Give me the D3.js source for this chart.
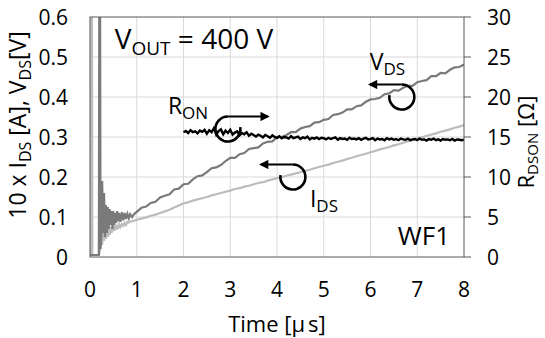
<!DOCTYPE html>
<html lang="en">
<head>
<meta charset="utf-8">
<title>WF1 switching waveform</title>
<style>
  body { margin: 0; background: #fff; }
  svg text { font-family: "Open Sans", sans-serif; fill: #000; }
  .grid line { stroke: #d9d9d9; stroke-width: 1; }
  .tick-label { font-size: 21px; }
  .title { font-size: 22px; }
  .note { font-size: 25px; }
</style>
</head>
<body>
<div id="chart"></div>
<script src="https://cdn.jsdelivr.net/npm/d3@7"></script>
<script>
var width = 545, height = 338;

// early transient (0 - 1 us), explicit sample times
var tEarly = [0, 0.02, 0.03, 0.04, 0.05, 0.19, 0.2, 0.215, 0.225, 0.24, 0.26, 0.28, 0.3, 0.32, 0.34,
  0.36, 0.38, 0.4, 0.42, 0.44, 0.46, 0.48, 0.5, 0.52, 0.54, 0.56, 0.58, 0.6, 0.62, 0.65, 0.68,
  0.71, 0.74, 0.77, 0.8, 0.83, 0.86, 0.9, 0.95];
var vdsEarly = [0.005, 0.005, 0.005, 0.005, 0.005, 0.005, 0.7, 0.7, 0.02, 0.05, 0.19, 0.06, 0.16, 0.05, 0.13,
  0.06, 0.125, 0.07, 0.12, 0.08, 0.115, 0.07, 0.115, 0.08, 0.11, 0.085, 0.115, 0.09, 0.11, 0.088, 0.112,
  0.092, 0.11, 0.095, 0.108, 0.097, 0.107, 0.1, 0.108];
var idsEarly = [0.005, 0.005, 0.7, 0.7, 0.005, 0.005, 0.01, 0.02, 0.03, 0.07, 0.03, 0.08, 0.04, 0.075, 0.045,
  0.075, 0.05, 0.075, 0.055, 0.075, 0.06, 0.072, 0.078, 0.065, 0.08, 0.068, 0.08, 0.07, 0.082, 0.075, 0.082,
  0.078, 0.085, 0.08, 0.088, 0.086, 0.088, 0.09, 0.091];

// main record, 1.0 - 8.0 us every 0.1 us
var mainStart = 1.0, mainStep = 0.1;
var vdsMain = [0.113, 0.123, 0.126, 0.135, 0.138, 0.149, 0.153, 0.157, 0.169, 0.171,
  0.182, 0.183, 0.194, 0.202, 0.204, 0.212, 0.222, 0.224, 0.230, 0.240,
  0.248, 0.248, 0.257, 0.260, 0.270, 0.272, 0.274, 0.284, 0.288, 0.289,
  0.299, 0.300, 0.305, 0.312, 0.312, 0.321, 0.325, 0.327, 0.336, 0.337,
  0.343, 0.345, 0.355, 0.357, 0.361, 0.369, 0.369, 0.377, 0.379, 0.388,
  0.394, 0.395, 0.398, 0.407, 0.409, 0.417, 0.416, 0.423, 0.428, 0.428,
  0.437, 0.440, 0.442, 0.452, 0.452, 0.460, 0.459, 0.468, 0.474, 0.475, 0.481];
var idsMain = [0.093, 0.096, 0.099, 0.103, 0.106, 0.110, 0.114, 0.118, 0.124, 0.129,
  0.134, 0.137, 0.141, 0.144, 0.147, 0.150, 0.154, 0.157, 0.160, 0.163,
  0.166, 0.170, 0.172, 0.176, 0.178, 0.182, 0.185, 0.187, 0.191, 0.194,
  0.197, 0.200, 0.203, 0.206, 0.209, 0.212, 0.215, 0.218, 0.222, 0.225,
  0.228, 0.231, 0.235, 0.238, 0.241, 0.245, 0.248, 0.252, 0.255, 0.258,
  0.262, 0.265, 0.269, 0.272, 0.275, 0.279, 0.282, 0.286, 0.289, 0.292,
  0.296, 0.299, 0.303, 0.306, 0.309, 0.313, 0.316, 0.319, 0.323, 0.326, 0.330];

// on-resistance, 2.0 - 8.0 us every 0.05 us [ohm]
var ronStart = 2.0, ronStep = 0.05;
var ron = [15.6, 15.75, 15.5, 15.85, 15.6, 15.7, 15.45, 15.8, 15.65, 15.9,
  15.4, 15.85, 15.6, 16.1, 15.3, 15.75, 15.95, 15.35, 15.8, 15.5,
  15.9, 15.3, 15.55, 15.7, 15.2, 15.5, 15.35, 15.6, 15.15, 15.4,
  15.25, 15.05, 15.3, 15.15, 14.95, 15.25, 15.1, 14.9, 15.2, 15.0,
  14.9, 15.1, 14.85, 15.0, 14.95, 14.8, 15.1, 14.85, 14.95, 15.05,
  14.75, 14.95, 14.85, 15.05, 14.7, 14.9, 14.8, 14.95, 14.75, 14.9,
  14.85, 14.7, 14.9, 14.75, 14.85, 14.95, 14.65, 14.85, 14.75, 14.8,
  14.65, 14.9, 14.75, 14.8, 14.7, 14.85, 14.65, 14.8, 14.9, 14.7,
  14.75, 14.85, 14.6, 14.8, 14.7, 14.75, 14.6, 14.85, 14.7, 14.8,
  14.65, 14.75, 14.6, 14.8, 14.7, 14.65, 14.8, 14.6, 14.7, 14.75,
  14.6, 14.8, 14.65, 14.7, 14.55, 14.75, 14.65, 14.8, 14.6, 14.7,
  14.55, 14.75, 14.65, 14.7, 14.6, 14.75, 14.55, 14.7, 14.65, 14.6, 14.65];

var xTicks = [0, 1, 2, 3, 4, 5, 6, 7, 8];
var yLeftTicks = [0, 0.1, 0.2, 0.3, 0.4, 0.5, 0.6];
var yRightTicks = [0, 5, 10, 15, 20, 25, 30];

// curve markers: where the circle sits and which axis it points to
var notes = [
  { name: "R", sub: "ON", t: 2.95, v: 16.0, axis: "right", lx: -60, ly: -15 },
  { name: "I", sub: "DS", t: 4.34, v: 0.2, axis: "left", lx: 17, ly: 30 },
  { name: "V", sub: "DS", t: 6.67, v: 0.4, axis: "left", lx: -32, ly: -27 }
];

var margin = { top: 17, right: 81, bottom: 81, left: 90 };
var plotW = width - margin.left - margin.right,
    plotH = height - margin.top - margin.bottom;

var x = d3.scaleLinear().domain([0, 8]).range([0, plotW]);
var yL = d3.scaleLinear().domain([0, 0.6]).range([plotH, 0]);
var yR = d3.scaleLinear().domain([0, 30]).range([plotH, 0]);

var svg = d3.select("#chart").append("svg")
    .attr("width", width)
    .attr("height", height);

var defs = svg.append("defs");
defs.append("clipPath").attr("id", "plot-clip")
  .append("rect").attr("width", plotW).attr("height", plotH);
defs.append("marker")
    .attr("id", "arrow")
    .attr("viewBox", "0 0 10 10")
    .attr("refX", 8).attr("refY", 5)
    .attr("markerWidth", 4.6).attr("markerHeight", 4.2)
    .attr("markerUnits", "strokeWidth")
    .attr("orient", "auto")
  .append("path")
    .attr("d", "M0,0 L10,5 L0,10 z")
    .attr("fill", "#000");

var g = svg.append("g").attr("transform", "translate(" + margin.left + "," + margin.top + ")");

// grid
var grid = g.append("g").attr("class", "grid");
grid.selectAll("line.v").data(xTicks.slice(1, -1)).enter().append("line")
    .attr("class", "v")
    .attr("x1", function(d) { return x(d); }).attr("x2", function(d) { return x(d); })
    .attr("y1", 0).attr("y2", plotH);
grid.selectAll("line.h").data(yLeftTicks.slice(1, -1)).enter().append("line")
    .attr("class", "h")
    .attr("y1", function(d) { return yL(d); }).attr("y2", function(d) { return yL(d); })
    .attr("x1", 0).attr("x2", plotW);

// build series
var idsData = tEarly.map(function(t, i) { return [t, idsEarly[i]]; })
  .concat(idsMain.map(function(v, i) { return [mainStart + i * mainStep, v]; }));
var vdsData = tEarly.map(function(t, i) { return [t, vdsEarly[i]]; })
  .concat(vdsMain.map(function(v, i) { return [mainStart + i * mainStep, v]; }));
var ronData = ron.map(function(v, i) { return [ronStart + i * ronStep, v]; });

var lineL = d3.line().x(function(d) { return x(d[0]); }).y(function(d) { return yL(d[1]); });
var lineR = d3.line().x(function(d) { return x(d[0]); }).y(function(d) { return yR(d[1]); });

var traces = g.append("g").attr("clip-path", "url(#plot-clip)");
traces.append("path").datum(idsData).attr("d", lineL)
    .attr("fill", "none").attr("stroke", "#bcbcbc").attr("stroke-width", 2.2);
traces.append("path").datum(vdsData).attr("d", lineL)
    .attr("fill", "none").attr("stroke", "#7a7a7a").attr("stroke-width", 2.2);
traces.append("path").datum(ronData).attr("d", lineR)
    .attr("fill", "none").attr("stroke", "#000").attr("stroke-width", 2.4);

// frame + axes
g.append("rect").attr("width", plotW).attr("height", plotH)
    .attr("fill", "none").attr("stroke", "#595959").attr("stroke-width", 1);

g.append("g").selectAll("line").data(yRightTicks).enter().append("line")
    .attr("x1", plotW).attr("x2", plotW + 7)
    .attr("y1", function(d) { return yR(d); }).attr("y2", function(d) { return yR(d); })
    .attr("stroke", "#595959");

g.append("g").selectAll("text").data(yLeftTicks).enter().append("text")
    .attr("class", "tick-label")
    .attr("x", -22).attr("y", function(d) { return yL(d); })
    .attr("dy", "0.36em").attr("text-anchor", "end")
    .text(function(d) { return d === 0 ? "0" : d3.format(".1f")(d); });

g.append("g").selectAll("text").data(yRightTicks).enter().append("text")
    .attr("class", "tick-label")
    .attr("x", plotW + 23).attr("y", function(d) { return yR(d); })
    .attr("dy", "0.36em")
    .text(function(d) { return d; });

g.append("g").selectAll("text").data(xTicks).enter().append("text")
    .attr("class", "tick-label")
    .attr("x", function(d) { return x(d); }).attr("y", plotH + 40)
    .attr("text-anchor", "middle")
    .text(function(d) { return d; });

// text with subscripts: offsets in pixels so the baseline comes back exactly
function subText(sel, parts, subSize, drop) {
  var down = 0;
  parts.forEach(function(p) {
    if (p.sub) {
      sel.append("tspan").attr("dy", drop).style("font-size", subSize + "px").text(p.sub);
      down = drop;
    } else {
      sel.append("tspan").attr("dy", -down).text(p.txt);
      down = 0;
    }
  });
}

// axis titles
var tt = g.append("text").attr("class", "title")
    .attr("x", x(4)).attr("y", plotH + 75).attr("text-anchor", "middle");
tt.append("tspan").text("Time [µ");
tt.append("tspan").attr("dx", 3).text("s]");

var lt = svg.append("text").attr("class", "title")
    .style("font-size", "23px")
    .attr("transform", "translate(26,125) rotate(-90)")
    .attr("text-anchor", "middle");
subText(lt, [{ txt: "10 x I" }, { sub: "DS" }, { txt: " [A], V" }, { sub: "DS" }, { txt: "[V]" }], 16, 5);

var rt = svg.append("text").attr("class", "title")
    .attr("transform", "translate(" + (width - 11) + ",142) rotate(-90)")
    .attr("text-anchor", "middle");
subText(rt, [{ txt: "R" }, { sub: "DSON" }, { txt: " [Ω]" }], 15, 4);

// annotations
var vout = g.append("text").attr("class", "note")
    .style("font-size", "28px")
    .attr("x", x(0.53)).attr("y", yL(0.52));
subText(vout, [{ txt: "V" }, { sub: "OUT" }, { txt: " = 400 V" }], 19, 6);

g.append("text").attr("class", "note")
    .style("font-size", "26px")
    .attr("x", x(8) - 14).attr("y", yL(0.03)).attr("text-anchor", "end")
    .text("WF1");

notes.forEach(function(n) {
  var cx = x(n.t), cy = n.axis === "right" ? yR(n.v) : yL(n.v);
  var r = 12.5;
  var right = n.axis === "right";
  var path = d3.path();
  if (right) {
    // from the top, counter-clockwise round to the right side
    path.arc(cx, cy, r, -Math.PI / 2, -0.15, true);
  } else {
    path.arc(cx, cy, r, -Math.PI / 2, Math.PI + 0.15, false);
  }
  g.append("path").attr("d", path.toString())
      .attr("fill", "none").attr("stroke", "#000").attr("stroke-width", 2.6);
  g.append("line")
      .attr("x1", cx).attr("y1", cy - r)
      .attr("x2", right ? cx + 40 : cx - 32).attr("y2", cy - r)
      .attr("stroke", "#000").attr("stroke-width", 2.2)
      .attr("marker-end", "url(#arrow)");
  var lab = g.append("text").attr("class", "note")
      .style("font-size", "23px")
      .attr("x", cx + n.lx).attr("y", cy + n.ly);
  subText(lab, [{ txt: n.name }, { sub: n.sub }], 17, 5);
});
</script>
</body>
</html>
